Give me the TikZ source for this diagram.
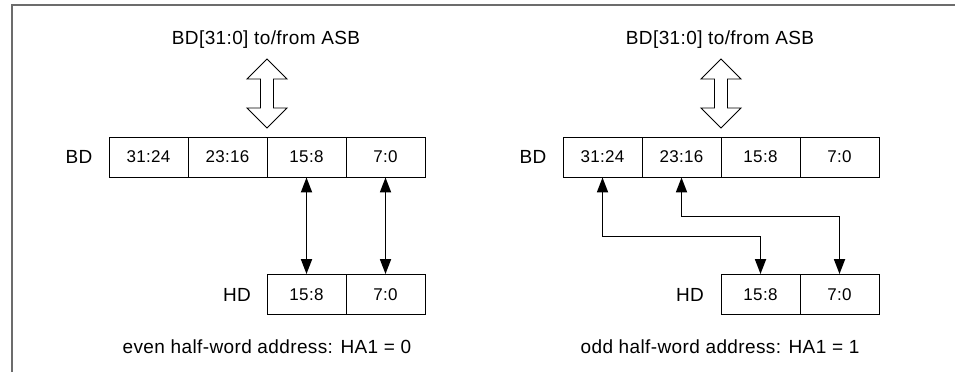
\documentclass[tikz,border=0pt]{standalone}
\usepackage{fontspec}
\setmainfont{Liberation Sans}
\newfontfamily\lblfont[LetterSpace=2]{Liberation Sans}
\newfontfamily\cellfont[LetterSpace=2]{Liberation Sans}
\usetikzlibrary{arrows.meta}
\begin{document}
\begin{tikzpicture}[x=1pt,y=-1pt,
  cell/.style={draw,line width=0.9pt,minimum width=79pt,minimum height=40pt,inner sep=0pt,font=\cellfont\fontsize{17}{20}\selectfont},
  lbl/.style={font=\lblfont\fontsize{19}{22}\selectfont},
  conn/.style={line width=1.8pt,{Triangle[length=15pt,width=11pt]}-{Triangle[length=15pt,width=11pt]}},
  hollow/.style={draw,line width=0.9pt,fill=white},
  frame/.style={draw=gray!85!black,line width=1.5pt}]
\useasboundingbox (0,0) rectangle (957,372);
\draw[frame] (12,372) -- (12,5) -- (955,5);
% ---------- left panel ----------
\node[lbl] (tl) at (266,40) {BD[31:0] to/from ASB};
\node[lbl] (bdl) at (79,157) {BD};
\node[cell] (la) at (148.5,157) {31:24};
\node[cell] (lb) at (227.5,157) {23:16};
\node[cell] (lc) at (306.5,157) {15:8};
\node[cell] (ld) at (385.5,157) {7:0};
\node[lbl] (hdl) at (237,295) {HD};
\node[cell] (lhc) at (306.5,294.5) {15:8};
\node[cell] (lhd) at (385.5,294.5) {7:0};
\node[lbl] (capl) at (267,347) {even half-word address: HA1 = 0};
\draw[hollow] (267,59) -- (287,79) -- (273.5,79) -- (273.5,108) -- (287,108) -- (267,128)
  -- (247,108) -- (260.5,108) -- (260.5,79) -- (247,79) -- cycle;
\draw[conn] (lc.south) -- (lhc.north);
\draw[conn] (ld.south) -- (lhd.north);
% ---------- right panel ----------
\node[lbl] (tr) at (720,40) {BD[31:0] to/from ASB};
\node[lbl] (bdr) at (533,157) {BD};
\node[cell] (ra) at (602.5,157) {31:24};
\node[cell] (rb) at (681.5,157) {23:16};
\node[cell] (rc) at (760.5,157) {15:8};
\node[cell] (rd) at (839.5,157) {7:0};
\node[lbl] (hdr) at (690,295) {HD};
\node[cell] (rhc) at (760.5,294.5) {15:8};
\node[cell] (rhd) at (839.5,294.5) {7:0};
\node[lbl] (capr) at (720,347) {odd half-word address: HA1 = 1};
\draw[hollow] (721,59) -- (741,79) -- (727.5,79) -- (727.5,108) -- (741,108) -- (721,128)
  -- (701,108) -- (714.5,108) -- (714.5,79) -- (701,79) -- cycle;
\draw[conn] (ra.south) -- ++(0,59) -| (rhc.north);
\draw[conn] (rb.south) -- ++(0,39) -| (rhd.north);
\end{tikzpicture}
\end{document}
